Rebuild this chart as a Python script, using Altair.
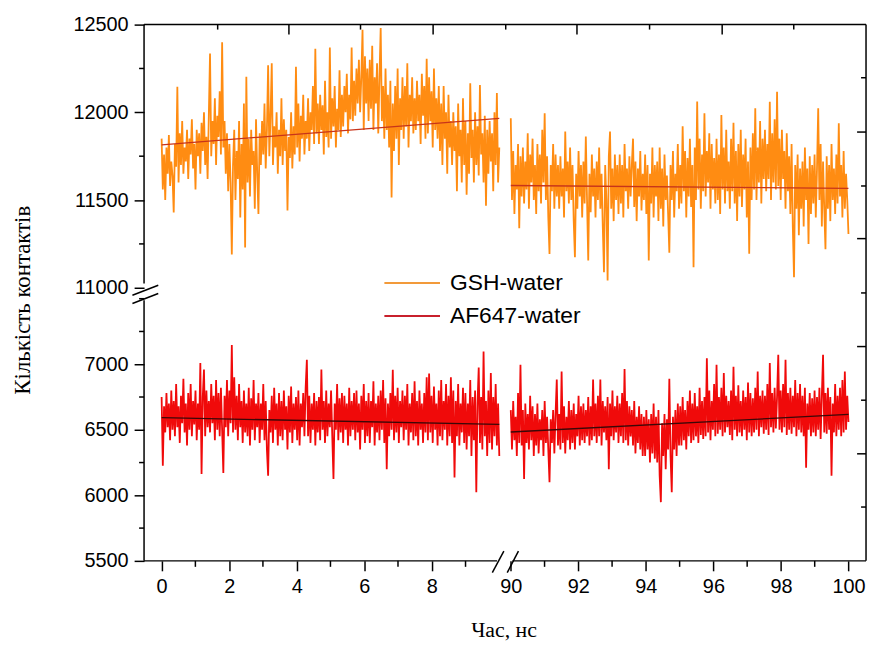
import altair as alt
import numpy as np
import pandas as pd

# ---------------- data ----------------
SERIES = ["GSH-water", "AF647-water"]
COLORS = ["#FF8C12", "#F00A0A"]
LEGEND_COLORS = ["#F29A3A", "#C8202C"]
FIT_COLORS = ["#C8341A", "#3A0808"]

T_LEFT = (0.0, 10.0)
T_RIGHT = (90.0, 100.0)

GSH_LEFT = [
    11850, 11560, 11760, 11500, 11800, 11650, 11870, 11580, 11720, 11640,
    11429, 11820, 11690, 12146, 11600, 11880, 11700, 11950, 11650, 11800,
    11720, 11900, 11620, 11850, 11760, 11960, 11680, 11820, 11560, 11900,
    11750, 11880, 11650, 11940, 11780, 12000, 11700, 11860, 11620, 11980,
    12335, 11750, 11950, 11820, 12080, 11700, 11980, 11860, 12120, 11760,
    12400, 11800, 11950, 11650, 11880, 11550, 11820, 11600, 11190, 11700,
    11900, 11500, 11780, 11620, 11950, 11400, 11820, 11560, 12050, 11230,
    12203, 11600, 11850, 11520, 11900, 11700, 11780, 11450, 11960, 11650,
    11420, 11880, 11700, 11950, 11760, 12050, 11680, 11900, 12268, 11750,
    11980, 12280, 11700, 11920, 11800, 12000, 11650, 11900, 11750, 12080,
    11700, 11960, 11780, 11900, 11440, 11860, 11740, 12000, 11680, 11920,
    11760, 12260, 11800, 12050, 11720, 11980, 11850, 12100, 11760, 11950,
    11850, 12080, 11780, 12000, 11900, 12150, 11820, 12363, 11880, 12050,
    11820, 12100, 11900, 12040, 11760, 12180, 11860, 12000, 11800, 12370,
    11850, 12080, 11920, 12150, 11800, 12020, 11900, 12240, 11860, 12100,
    11920, 12150, 12000, 12220, 11880, 12100, 11960, 12370, 11950, 12180,
    11980, 12250, 12050, 12300, 12000, 12200, 12470, 11900, 12320, 12050,
    12250, 11950, 12300, 12020, 12380, 11900, 12200, 12050, 12280, 11880,
    12200, 12480, 11950, 12150, 11850, 12250, 11900, 12100, 11800, 12180,
    11515, 12050, 11780, 12150, 11850, 12250, 11700, 12080, 11900, 12200,
    11850, 12150, 11920, 12280, 11800, 12100, 11950, 12200, 11880, 12080,
    11900, 12180, 11950, 12100, 11820, 12220, 11980, 12150, 11850, 12306,
    11880, 12200, 11950, 12120, 11800, 12250, 11900, 12080, 11850, 12150,
    11780, 12050, 11700, 12150, 11850, 12000, 11650, 12100, 11800, 11950,
    11700, 12000, 11780, 11920, 11550, 12050, 11750, 11900, 11600, 12080,
    11700, 11950, 11530, 11880, 11650, 12165, 11740, 11900, 11600, 12000,
    11700, 11920, 11640, 12155, 11760, 11880, 11600, 11980, 11467, 11900,
    11650, 11950, 11720, 11880, 11550, 12000, 11700, 12110, 11600, 11800,
]
GSH_RIGHT = [
    11966, 11500, 11780, 11420, 11700, 11560, 11820, 11340, 11750, 11520,
    11800, 11480, 11720, 11560, 11880, 11450, 11760, 11600, 11850, 11500,
    11700, 11420, 11820, 11550, 11760, 11480, 11900, 11600, 11995, 11500,
    11750, 11400, 11193, 11700, 11550, 11820, 11450, 11760, 11520, 11700,
    11450, 11750, 11520, 11680, 11400, 11890, 11550, 11720, 11480, 11800,
    11500, 11700, 11380, 11174, 11650, 11450, 11780, 11520, 11700, 11400,
    11720, 11480, 11862, 11500, 11155, 11650, 11430, 11760, 11520, 11680,
    11400, 11720, 11500, 11800, 11450, 11650, 11350, 11089, 11700, 11500,
    11042, 11750, 11890, 11450, 11680, 11380, 11760, 11500, 11700, 11420,
    11760, 11480, 11700, 11400, 11820, 11550, 11680, 11450, 11750, 11520,
    11700, 11850, 11460, 11720, 11380, 11680, 11520, 11780, 11440, 11650,
    11500, 11760, 11420, 11700, 11155, 11650, 11480, 11800, 11400, 11700,
    11520, 11720, 11380, 11800, 11450, 11680, 11350, 11760, 11500, 11640,
    11420, 11200, 11700, 11500, 11780, 11400, 11650, 11550, 11820, 11450,
    11700, 11480, 11920, 11550, 11780, 11400, 11740, 11520, 11850, 11460,
    11700, 11117, 11800, 11500, 12061, 11560, 11850, 11450, 11760, 11550,
    11995, 11520, 11780, 11600, 11880, 11450, 11820, 11560, 11740, 11480,
    11850, 11500, 11760, 11420, 11985, 11560, 11800, 11480, 11900, 11550,
    11720, 11450, 11850, 11550, 11940, 11480, 11780, 11380, 11820, 11520,
    11900, 11460, 11760, 11560, 11850, 11400, 11720, 11194, 11800, 11500,
    11880, 11560, 12023, 11500, 11800, 11600, 11950, 11480, 11850, 11620,
    11900, 11550, 11820, 11620, 12060, 11500, 11880, 11600, 11960, 11560,
    12117, 11580, 11850, 11500, 11900, 11620, 11780, 11450, 11880, 11550,
    11750, 11420, 11820, 11350, 11060, 11700, 11450, 11760, 11300, 11680,
    11450, 11720, 11350, 11800, 11500, 11680, 11250, 11750, 11420, 11700,
    11480, 11760, 11400, 11680, 12023, 11500, 11820, 11350, 11720, 11450,
    11220, 11750, 11450, 11700, 11380, 11820, 11500, 11680, 11420, 11760,
    11480, 11938, 11520, 11700, 11400, 11780, 11450, 11650, 11500, 11306,
]
AF_LEFT = [
    6750, 6226, 6680, 6480, 6780, 6520, 6700, 6420, 6800, 6500,
    6720, 6450, 6850, 6520, 6680, 6400, 6760, 6550, 6890, 6480,
    6700, 6380, 6780, 6500, 6850, 6450, 6720, 6540, 6800, 6420,
    6700, 6500, 7009, 6163, 6750, 6960, 6450, 6800, 6520, 6720,
    6480, 6850, 6550, 6760, 6420, 6880, 6500, 6780, 6450, 6820,
    6500, 6170, 6760, 6520, 6880, 6450, 6800, 6550, 7147, 6480,
    6900, 6500, 6760, 6420, 6850, 6520, 6720, 6400, 6800, 6480,
    6700, 6450, 6820, 6380, 6740, 6500, 6880, 6420, 6700, 6520,
    6780, 6400, 6700, 6500, 6850, 6420, 6720, 6350, 6150, 6650,
    6480, 6760, 6400, 6820, 6500, 6700, 6380, 6780, 6450, 6720,
    6420, 6800, 6500, 6680, 6350, 6760, 6480, 6830, 6400, 6700,
    6500, 6750, 6420, 6800, 6380, 6700, 6520, 6780, 6450, 6820,
    7034, 6450, 6760, 6400, 6700, 6500, 6780, 6380, 6720, 6480,
    6750, 6420, 6960, 6500, 6720, 6400, 6800, 6450, 6700, 6520,
    6800, 6450, 6125, 6700, 6500, 6850, 6420, 6740, 6480, 6780,
    6400, 6760, 6500, 6700, 6380, 6820, 6450, 6720, 6500, 6780,
    6420, 6800, 6480, 6700, 6350, 6760, 6500, 6850, 6400, 6720,
    6450, 6780, 6400, 6720, 6520, 6870, 6380, 6700, 6480, 6760,
    6420, 6800, 6500, 6880, 6400, 6740, 6200, 6700, 6450, 6780,
    6500, 6958, 6420, 6760, 6480, 6820, 6400, 6720, 6520, 6800,
    6420, 6760, 6500, 6850, 6380, 6700, 6480, 6780, 6420, 6870,
    6450, 6720, 6380, 6800, 6500, 6700, 6400, 6780, 6480, 6900,
    6420, 6930, 6480, 6760, 6400, 6830, 6500, 6700, 6380, 6800,
    6450, 6880, 6420, 6720, 6500, 6850, 6380, 6760, 6450, 6900,
    6400, 6800, 6137, 6720, 6450, 6850, 6380, 6700, 6480, 6820,
    6400, 6780, 6350, 6700, 6450, 6880, 6300, 6750, 6420, 6800,
    6024, 6700, 6975, 6400, 6750, 6350, 7097, 6450, 6720, 6300,
    6800, 6400, 6933, 6350, 6750, 6450, 6850, 6380, 6700, 6300,
]
AF_RIGHT = [
    6650, 6350, 6720, 6420, 6600, 6300, 6780, 6400, 6996, 6380,
    6650, 6125, 6700, 6400, 6620, 6350, 6760, 6420, 6680, 6300,
    6620, 6380, 6700, 6320, 6580, 6420, 6650, 6300, 6720, 6400,
    6600, 6350, 6100, 6580, 6400, 6650, 6320, 6620, 6883, 6380,
    6620, 6350, 6945, 6400, 6680, 6320, 6600, 6420, 6720, 6350,
    6650, 6400, 6700, 6350, 6620, 6450, 6760, 6380, 6680, 6420,
    6700, 6400, 6650, 6450, 6750, 6380, 6680, 6420, 6883, 6450,
    6700, 6400, 6760, 6450, 6883, 6380, 6720, 6480, 6680, 6420,
    6750, 6200, 6700, 6450, 6800, 6420, 6680, 6480, 6760, 6400,
    6700, 6450, 6780, 6400, 6963, 6420, 6720, 6380, 6680, 6450,
    6650, 6380, 6720, 6320, 6600, 6400, 6680, 6350, 6620, 6300,
    6600, 6300, 6650, 6350, 6580, 6250, 6620, 6320, 6700, 6280,
    6600, 6250, 6650, 6150, 5948, 6550, 6300, 6620, 6200, 6580,
    6350, 6890, 6300, 6024, 6600, 6350, 6650, 6300, 6700, 6380,
    6680, 6380, 6750, 6420, 6650, 6350, 6720, 6450, 6800, 6400,
    6700, 6420, 6780, 6450, 6680, 6400, 6820, 6460, 6720, 6430,
    6750, 6450, 7046, 6480, 6800, 6420, 6720, 6500, 6850, 6450,
    6996, 6470, 6750, 6500, 6820, 6450, 6933, 6480, 6760, 6520,
    6720, 6460, 6800, 6420, 6980, 6500, 6760, 6450, 6840, 6480,
    6720, 6450, 6800, 6500, 6750, 6420, 6860, 6480, 6780, 6450,
    6740, 6480, 6820, 6500, 6945, 6450, 6760, 6520, 6800, 6470,
    6760, 6500, 6850, 6460, 7009, 6520, 6780, 6480, 6820, 6510,
    6750, 7072, 6500, 6800, 6480, 6850, 6520, 7034, 6460, 6780,
    6500, 6820, 6470, 6760, 6520, 6880, 6450, 6780, 6500, 6850,
    6480, 6760, 6450, 6820, 6210, 6700, 6500, 6780, 6450, 6740,
    6480, 6800, 6450, 6750, 6500, 6820, 6430, 6760, 7072, 6480,
    6780, 6470, 6820, 6500, 6750, 6150, 6700, 6480, 6850, 6450,
    6760, 6500, 6820, 6450, 6880, 6480, 6945, 6500, 6760, 6560,
]

FIT_T = [0, 10, 90, 100]
GSH_FIT = [11815, 11966, 11583, 11566]
AF_FIT = [6592, 6542, 6483, 6617]

Y_MAJOR = [5500, 6000, 6500, 7000, 11000, 11500, 12000, 12500]
Y_MINOR = [5750, 6250, 6750, 7250, 7500, 11250, 11750, 12250]
X_MAJOR = [0, 2, 4, 6, 8, 90, 92, 94, 96, 98, 100]
X_MINOR = [1, 3, 5, 7, 9, 91, 93, 95, 97, 99]

# ---------------- broken-axis geometry ----------------
W, H = 727, 540
X_SHIFT = 79.66                # right block: display = t - X_SHIFT
X_DOMAIN = [-0.52, 20.86]
LOW_K = 0.132                  # px per count, lower block (5500..7500)
HIGH_OFF = 275.0               # display offset of 11000
HIGH_K = 265.0 / 1500.0        # px per count, upper block (11000..12500)

# decorative frame ticks of the original (display units)
TOP_LONG = [3.77, 8.04, 12.3, 16.6]
TOP_SHORT = [1.66, 5.89, 10.19, 14.45, 18.72]
RIGHT_LONG = [107.8, 215.8, 324.5, 431.8]
RIGHT_SHORT = [54.2, 161.8, 269.8, 377.5, 486.5]


def xexpr(f="t"):
    return f"datum.{f} < 50 ? datum.{f} : datum.{f} - {X_SHIFT}"


def yexpr(f="v"):
    return (f"datum.{f} < 9000 ? (datum.{f} - 5500) * {LOW_K} : "
            f"{HIGH_OFF} + (datum.{f} - 11000) * {HIGH_K}")


def dx(t):
    return t if t < 50 else t - X_SHIFT


def dy(v):
    return (v - 5500) * LOW_K if v < 9000 else HIGH_OFF + (v - 11000) * HIGH_K


rows = []
for name, segs in [(SERIES[0], [(T_LEFT, GSH_LEFT), (T_RIGHT, GSH_RIGHT)]),
                   (SERIES[1], [(T_LEFT, AF_LEFT), (T_RIGHT, AF_RIGHT)])]:
    for k, ((t0, t1), vals) in enumerate(segs):
        ts = np.linspace(t0, t1, len(vals))
        for t, v in zip(ts, vals):
            rows.append({"t": float(t), "v": v, "series": name, "seg": f"{name}-{k}"})
df = pd.DataFrame(rows)

fit_rows = []
for name, vals in [(SERIES[0], GSH_FIT), (SERIES[1], AF_FIT)]:
    for i, (t, v) in enumerate(zip(FIT_T, vals)):
        fit_rows.append({"t": t, "v": v, "series": name, "seg": f"{name}-{i // 2}"})
fit_df = pd.DataFrame(fit_rows)

xs = alt.Scale(domain=X_DOMAIN, nice=False, zero=False)
ys = alt.Scale(domain=[0, H], nice=False, zero=False)
cs = alt.Scale(domain=SERIES, range=COLORS)

FONT = "Liberation Sans"
SERIF = "Liberation Serif"

x_axis = alt.Axis(
    values=[dx(t) for t in X_MAJOR],
    labelExpr=f"datum.value < 9.5 ? format(datum.value, '.0f') : format(datum.value + {X_SHIFT}, '.0f')",
    domain=False, grid=False, ticks=True, tickSize=10, tickWidth=1.5, tickColor="black",
    labelFont=FONT, labelFontSize=20, labelColor="black", labelPadding=6,
    labelFlush=False, labelOverlap=False,
    title="Час, нс", titleFont=SERIF, titleFontSize=22, titleFontWeight="normal",
    titleColor="black", titleX=362, titleY=76, titleAlign="center",
    titleBaseline="alphabetic", titleAngle=0,
)
y_axis = alt.Axis(
    values=[dy(v) for v in Y_MAJOR],
    labelExpr=(f"datum.value < 270 ? format(5500 + datum.value / {LOW_K}, '.0f') : "
               f"format(11000 + (datum.value - {HIGH_OFF}) / {HIGH_K}, '.0f')"),
    domain=False, grid=False, ticks=True, tickSize=10, tickWidth=1.5, tickColor="black",
    labelFont=FONT, labelFontSize=20, labelColor="black", labelPadding=6,
    labelFlush=False, labelOverlap=False,
    title="Кількість контактів", titleFont=SERIF, titleFontSize=23,
    titleFontWeight="normal", titleColor="black", titleX=-115, titleY=277,
    titleAngle=270, titleAlign="center", titleBaseline="alphabetic",
)

lines = alt.Chart(df).mark_line(strokeWidth=1.8).transform_calculate(
    xd=xexpr(), yd=yexpr()
).encode(
    x=alt.X("xd:Q", scale=xs, axis=x_axis),
    y=alt.Y("yd:Q", scale=ys, axis=y_axis),
    color=alt.Color("series:N", scale=cs, legend=None),
    detail="seg:N",
)

fits = []
for name, col in zip(SERIES, FIT_COLORS):
    fits.append(
        alt.Chart(fit_df[fit_df.series == name]).mark_line(strokeWidth=1.3, color=col)
        .transform_calculate(xd=xexpr(), yd=yexpr())
        .encode(x=alt.X("xd:Q", scale=xs), y=alt.Y("yd:Q", scale=ys), detail="seg:N")
    )

one = pd.DataFrame({"a": [0]})
BLACK = "black"


def seg(x1, y1, x2, y2, w=1.5):
    return alt.Chart(one).mark_rule(color=BLACK, strokeWidth=w).encode(
        x=alt.value(x1), y=alt.value(y1), x2=alt.value(x2), y2=alt.value(y2))


frame = [
    seg(0, 0, W, 0),            # top
    seg(W, 0, W, H),            # right
    seg(0, 0, 0, 260.8),        # left, upper block
    seg(0, 277.5, 0, H),        # left, lower block
    seg(0, H, 355.5, H),        # bottom, left block
    seg(371, H, W, H),          # bottom, right block
    # break marks
    seg(-11.7, 272.5, 14.3, 262.5), seg(-11.7, 280.8, 14.3, 270.8),
    seg(350.7, 551.8, 362.3, 530.2), seg(365.7, 551.8, 377.0, 530.2),
]

y_minor = alt.Chart(pd.DataFrame({"v": Y_MINOR})).mark_rule(color=BLACK, strokeWidth=1.5).transform_calculate(
    yd=yexpr()).encode(y=alt.Y("yd:Q", scale=ys), x=alt.value(-5), x2=alt.value(0))
x_minor = alt.Chart(pd.DataFrame({"t": X_MINOR})).mark_rule(color=BLACK, strokeWidth=1.5).transform_calculate(
    xd=xexpr()).encode(x=alt.X("xd:Q", scale=xs), y=alt.value(H), y2=alt.value(H + 6))


def top_ticks(vals, length):
    return alt.Chart(pd.DataFrame({"xd": vals})).mark_rule(color=BLACK, strokeWidth=1.5).encode(
        x=alt.X("xd:Q", scale=xs), y=alt.value(0), y2=alt.value(length))


def right_ticks(vals, length):
    return alt.Chart(pd.DataFrame({"yd": vals})).mark_rule(color=BLACK, strokeWidth=1.5).encode(
        y=alt.Y("yd:Q", scale=ys), x=alt.value(W - length), x2=alt.value(W))


legend = []
LEG_Y = [260.2, 293.5]
for name, col, ly in zip(SERIES, LEGEND_COLORS, LEG_Y):
    legend.append(alt.Chart(one).mark_rule(color=col, strokeWidth=2).encode(
        x=alt.value(242), x2=alt.value(298), y=alt.value(ly)))
    legend.append(alt.Chart(one).mark_text(
        text=name, align="left", baseline="middle", font=FONT, fontSize=23, color="black"
    ).encode(x=alt.value(308), y=alt.value(ly)))

chart = alt.layer(
    lines, *fits, *frame, y_minor, x_minor,
    top_ticks(TOP_LONG, 10), top_ticks(TOP_SHORT, 5),
    right_ticks(RIGHT_LONG, 9), right_ticks(RIGHT_SHORT, 5),
    *legend,
).properties(
    width=W, height=H,
    autosize=alt.AutoSizeParams(type="none"),
    padding={"left": 137, "top": 14.5, "right": 4, "bottom": 84},
    background="white",
).configure_view(stroke=None)

chart.save("out.html", embed_options={"renderer": "svg", "actions": False})
